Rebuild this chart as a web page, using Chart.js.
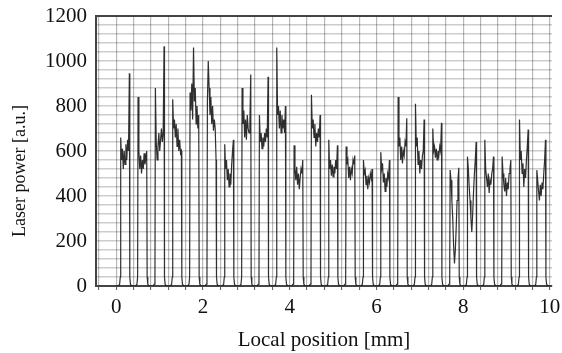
<!DOCTYPE html>
<html>
<head>
<meta charset="utf-8">
<script src="https://cdn.jsdelivr.net/npm/chart.js@4/dist/chart.umd.min.js"></script>
<style>
  html, body { margin: 0; padding: 0; background: #ffffff; }
  #wrap { width: 562px; height: 353px; }
</style>
</head>
<body>
<div id="wrap"><canvas id="c" width="562" height="353"></canvas></div>
<script>
// ---- Data ----
// Centres of the 25 laser pulses (mm)
const pulseCentres = [0.2, 0.6, 1.0, 1.4, 1.8, 2.2, 2.6, 3.0, 3.4, 3.8, 4.2, 4.6, 5.0,
                      5.4, 5.8, 6.2, 6.6, 7.0, 7.4, 7.8, 8.2, 8.6, 9.0, 9.4, 9.8];
// Offsets (mm, relative to pulse centre) of the sampled points of one pulse
const riseOffsets = [-0.2, -0.15, -0.125, -0.11];
const topOffsets  = [-0.1, -0.08, -0.06, -0.04, -0.02, 0, 0.02, 0.04, 0.06, 0.08, 0.1];
const fallOffsets = [0.11, 0.125, 0.15];
// Power at the foot of each pulse (valley between pulses)
const riseFoot = [0, 1, 8, 40];
const fallFoot = [40, 8, 1];
// Power across the top of each pulse (left edge, plateau, right edge), a.u.
const pulseTops = [
  [660, 560, 610, 520, 600, 540, 630, 560, 650, 600, 945],
  [840, 600, 520, 580, 500, 560, 520, 590, 540, 570, 600],
  [880, 640, 560, 620, 680, 600, 650, 700, 640, 680, 1065],
  [830, 700, 740, 660, 720, 620, 700, 600, 650, 590, 600],
  [860, 780, 900, 740, 1060, 820, 880, 720, 800, 700, 760],
  [820, 1000, 880, 760, 840, 720, 800, 690, 740, 700, 560],
  [630, 520, 560, 470, 520, 440, 500, 450, 540, 600, 650],
  [880, 720, 780, 660, 740, 650, 760, 700, 680, 720, 940],
  [760, 640, 680, 610, 660, 620, 680, 640, 700, 660, 930],
  [1060, 760, 800, 700, 780, 680, 760, 700, 740, 680, 800],
  [625, 520, 470, 530, 450, 500, 430, 480, 520, 500, 560],
  [850, 700, 740, 660, 720, 620, 680, 640, 700, 660, 760],
  [650, 520, 560, 490, 540, 485, 530, 500, 560, 520, 625],
  [620, 540, 560, 480, 530, 470, 520, 500, 560, 540, 580],
  [560, 500, 515, 450, 490, 430, 480, 460, 500, 480, 520],
  [595, 520, 545, 460, 500, 420, 480, 440, 500, 480, 560],
  [840, 620, 660, 560, 620, 545, 600, 580, 640, 620, 745],
  [810, 620, 660, 540, 600, 500, 560, 520, 580, 600, 740],
  [700, 600, 620, 570, 610, 560, 600, 580, 620, 600, 725],
  [515, 470, 380, 300, 180, 100, 160, 260, 380, 470, 525],
  [575, 520, 440, 380, 300, 240, 320, 420, 500, 560, 640],
  [650, 520, 480, 440, 500, 413, 470, 450, 500, 520, 575],
  [575, 500, 450, 420, 480, 400, 460, 430, 500, 520, 560],
  [740, 560, 600, 500, 545, 440, 520, 480, 560, 620, 695],
  [515, 470, 420, 380, 450, 400, 460, 430, 500, 560, 650]
];
const traceEnd = [10.0, 0];
// Axis tick labels and titles
const xTickLabels = [0, 2, 4, 6, 8, 10];
const yTickLabels = [0, 200, 400, 600, 800, 1000, 1200];
const xTitle = 'Local position [mm]';
const yTitle = 'Laser power [a.u.]';

// ---- Build the point table for the library ----
const points = [];
pulseCentres.forEach((c, i) => {
  riseOffsets.forEach((o, j) => points.push({x: c + o, y: riseFoot[j]}));
  topOffsets.forEach((o, j) => points.push({x: c + o, y: pulseTops[i][j]}));
  fallOffsets.forEach((o, j) => points.push({x: c + o, y: fallFoot[j]}));
});
points.push({x: traceEnd[0], y: traceEnd[1]});

const serif = "'Liberation Serif', 'DejaVu Serif', serif";

const frameAndTitle = {
  id: 'frameAndTitle',
  afterDraw(chart) {
    const {ctx, chartArea} = chart;
    ctx.save();
    ctx.strokeStyle = '#444';
    ctx.lineWidth = 2;
    ctx.beginPath();
    ctx.moveTo(chartArea.left - 1, chartArea.top);
    ctx.lineTo(chartArea.right, chartArea.top);
    ctx.stroke();
    // y-axis title (rotated), placed like the reference
    ctx.translate(20, 171);
    ctx.rotate(-Math.PI / 2);
    ctx.fillStyle = '#111';
    ctx.font = "18px " + serif;
    ctx.textAlign = 'center';
    ctx.textBaseline = 'middle';
    ctx.fillText(yTitle, 0, 0);
    ctx.restore();
  }
};

new Chart(document.getElementById('c'), {
  type: 'line',
  data: {
    datasets: [{
      data: points,
      borderColor: 'rgba(25,25,25,0.9)',
      borderWidth: 1.2,
      pointRadius: 0,
      tension: 0,
      fill: false
    }]
  },
  options: {
    responsive: false,
    devicePixelRatio: 1,
    animation: false,
    layout: { padding: { top: 16, right: 10, left: 0, bottom: 0 } },
    plugins: { legend: { display: false }, tooltip: { enabled: false } },
    scales: {
      x: {
        type: 'linear',
        min: -0.47,
        max: 10.05,
        afterBuildTicks(scale) {
          const t = [];
          for (let k = -1; k <= 25; k++) t.push({ value: Math.round(k * 4) / 10 });
          scale.ticks = t;
        },
        afterFit(scale) {
          scale.height = 67;
          scale.paddingLeft = 0; scale.paddingRight = 0;
        },
        ticks: {
          autoSkip: false,
          maxRotation: 0,
          padding: 5,
          color: '#111',
          font: { family: serif, size: 21 },
          callback(v) {
            const r = Math.round(v);
            return (Math.abs(v - r) < 1e-6 && xTickLabels.includes(r)) ? String(r) : '';
          }
        },
        grid: {
          color: 'rgba(0,0,0,0.28)',
          lineWidth: 1.2,
          drawTicks: true,
          tickLength: 4,
          tickColor: '#555',
          tickWidth: 1
        },
        border: { display: true, color: '#444', width: 2 },
        title: {
          display: true,
          text: xTitle,
          color: '#111',
          font: { family: serif, size: 21 },
          padding: { top: 4, bottom: 0 }
        }
      },
      y: {
        type: 'linear',
        min: 0,
        max: 1200,
        afterBuildTicks(scale) {
          const t = [];
          for (let k = 0; k <= 30; k++) t.push({ value: k * 40 });
          scale.ticks = t;
        },
        afterFit(scale) {
          scale.width = 96;
          scale.paddingTop = 0; scale.paddingBottom = 0;
        },
        ticks: {
          autoSkip: false,
          padding: 9,
          color: '#111',
          font: { family: serif, size: 21 },
          callback(v) { return yTickLabels.includes(v) ? String(v) : ''; }
        },
        grid: {
          color: 'rgba(0,0,0,0.2)',
          lineWidth: 1.5,
          drawTicks: false
        },
        border: { display: true, color: '#444', width: 2 },
        title: { display: false }
      }
    }
  },
  plugins: [frameAndTitle]
});
</script>
</body>
</html>
